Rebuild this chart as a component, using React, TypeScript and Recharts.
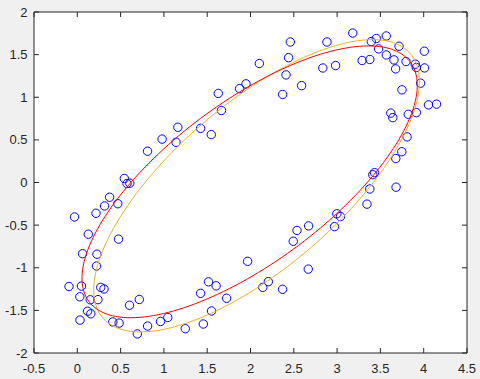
import React from 'react';
import { ScatterChart, Scatter, XAxis, YAxis, CartesianGrid } from 'recharts';

// Observed data points (x, y)
const pointsX = [
  0.543, 0.574, 0.606, 0.373, 0.315, 0.468, 0.216, -0.032, 0.127, 0.476,
  0.061, 0.227, 0.222, -0.096, 0.048, 0.271, 0.308, 0.029, 0.150, 0.239,
  0.603, 0.716, 0.119, 0.156, 0.031, 0.410, 0.483, 0.693, 0.812, 0.961,
  1.045, 1.247, 1.424, 1.515, 1.603, 1.455, 1.550, 1.724, 1.967, 2.142,
  2.206, 2.370, 2.494, 2.537, 2.671, 2.667, 2.970, 2.997, 3.039, 3.345,
  3.378, 3.412, 3.432, 3.681, 3.678, 3.747, 3.808, 3.620, 3.643, 3.822,
  3.915, 4.055, 4.148, 3.749, 3.964, 4.010, 3.903, 3.915, 3.796, 4.007,
  3.715, 3.676, 3.657, 3.568, 3.479, 3.568, 3.453, 3.395, 3.289, 3.378,
  3.181, 2.883, 2.835, 2.983, 2.460, 2.440, 2.410, 2.371, 2.590, 2.102,
  1.948, 1.874, 1.628, 1.665, 1.547, 1.424, 1.161, 1.140, 0.979, 0.811,
];
const pointsY = [
  0.047, -0.012, -0.008, -0.173, -0.275, -0.249, -0.361, -0.404, -0.607, -0.664,
  -0.835, -0.841, -0.980, -1.220, -1.215, -1.230, -1.249, -1.341, -1.376, -1.374,
  -1.440, -1.372, -1.510, -1.540, -1.614, -1.636, -1.649, -1.776, -1.684, -1.630,
  -1.583, -1.715, -1.300, -1.165, -1.212, -1.660, -1.507, -1.358, -0.925, -1.230,
  -1.163, -1.253, -0.689, -0.562, -0.509, -1.016, -0.518, -0.367, -0.400, -0.254,
  -0.076, 0.091, 0.115, -0.055, 0.281, 0.361, 0.535, 0.814, 0.761, 0.800,
  0.820, 0.910, 0.919, 1.087, 1.165, 1.344, 1.388, 1.349, 1.419, 1.540,
  1.598, 1.333, 1.438, 1.496, 1.567, 1.719, 1.689, 1.653, 1.431, 1.443,
  1.753, 1.648, 1.343, 1.372, 1.648, 1.464, 1.262, 1.033, 1.136, 1.396,
  1.157, 1.101, 1.045, 0.845, 0.562, 0.635, 0.648, 0.472, 0.509, 0.367,
];

// Fitted ellipses: [centerX, centerY, semiMajor, semiMinor, angleDeg]
const redEllipse = [1.99, 0.008, 2.327, 0.935, 37.3];
const yellowEllipse = [2.07, -0.0385, 2.357, 0.959, 41.3];

const xTicks = [-0.5, 0, 0.5, 1, 1.5, 2, 2.5, 3, 3.5, 4, 4.5];
const yTicks = [-2, -1.5, -1, -0.5, 0, 0.5, 1, 1.5, 2];

const points = pointsX.map((x, i) => ({ x, y: pointsY[i] }));

function ellipsePath(p: number[]) {
  const [cx, cy, a, b, deg] = p;
  const th = (deg * Math.PI) / 180;
  const c = Math.cos(th);
  const s = Math.sin(th);
  const out: { x: number; y: number }[] = [];
  const n = 180;
  for (let i = 0; i <= n; i++) {
    const t = (2 * Math.PI * i) / n;
    const ct = Math.cos(t);
    const st = Math.sin(t);
    out.push({ x: cx + a * c * ct - b * s * st, y: cy + a * s * ct + b * c * st });
  }
  return out;
}

const axisColor = '#262626';
const font = 'Arial, "Liberation Sans", Helvetica, sans-serif';

const Circle = (props: any) => {
  const { cx, cy } = props;
  if (cx == null || cy == null) return <g />;
  return <circle cx={cx} cy={cy} r={4.2} fill="none" stroke="#0000ff" strokeWidth={1} />;
};

const Nothing = () => <g />;

export default function App() {
  const tickStyle = { fontSize: 13, fill: axisColor, fontFamily: font };
  return (
    <div style={{ position: 'absolute', left: 0, top: 0, width: 480, height: 379, background: '#f0f0f0' }}>
      <ScatterChart width={480} height={379} margin={{ top: 11, right: 12, left: 0, bottom: 0 }}>
        <CartesianGrid horizontal={false} vertical={false} fill="#ffffff" />
        <XAxis
          xAxisId="b"
          dataKey="x"
          type="number"
          domain={[-0.5, 4.5]}
          ticks={xTicks}
          allowDataOverflow
          height={26}
          tickSize={-5}
          tickMargin={16}
          stroke={axisColor}
          tick={tickStyle}
          interval={0}
        />
        <XAxis
          xAxisId="t"
          orientation="top"
          type="number"
          dataKey="x"
          domain={[-0.5, 4.5]}
          ticks={xTicks}
          allowDataOverflow
          height={1}
          tickSize={-5}
          tick={<Nothing />}
          stroke={axisColor}
          interval={0}
        />
        <YAxis
          yAxisId="l"
          dataKey="y"
          type="number"
          domain={[-2, 2]}
          ticks={yTicks}
          allowDataOverflow
          width={34}
          tickSize={-5}
          tickMargin={11.5}
          stroke={axisColor}
          tick={tickStyle}
          interval={0}
        />
        <YAxis
          yAxisId="r"
          orientation="right"
          dataKey="y"
          type="number"
          domain={[-2, 2]}
          ticks={yTicks}
          allowDataOverflow
          width={1}
          tickSize={-5}
          tick={<Nothing />}
          stroke={axisColor}
          interval={0}
        />
        <Scatter xAxisId="b" yAxisId="l" data={points} shape={<Circle />} isAnimationActive={false} />
        <Scatter xAxisId="t" yAxisId="r" data={points} shape={<Nothing />} isAnimationActive={false} />
        <Scatter
          xAxisId="b"
          yAxisId="l"
          data={ellipsePath(yellowEllipse)}
          line={{ stroke: '#EDB120', strokeWidth: 1 }}
          lineType="joint"
          shape={<Nothing />}
          isAnimationActive={false}
        />
        <Scatter
          xAxisId="b"
          yAxisId="l"
          data={ellipsePath(redEllipse)}
          line={{ stroke: '#ff0000', strokeWidth: 1 }}
          lineType="joint"
          shape={<Nothing />}
          isAnimationActive={false}
        />
      </ScatterChart>
    </div>
  );
}
